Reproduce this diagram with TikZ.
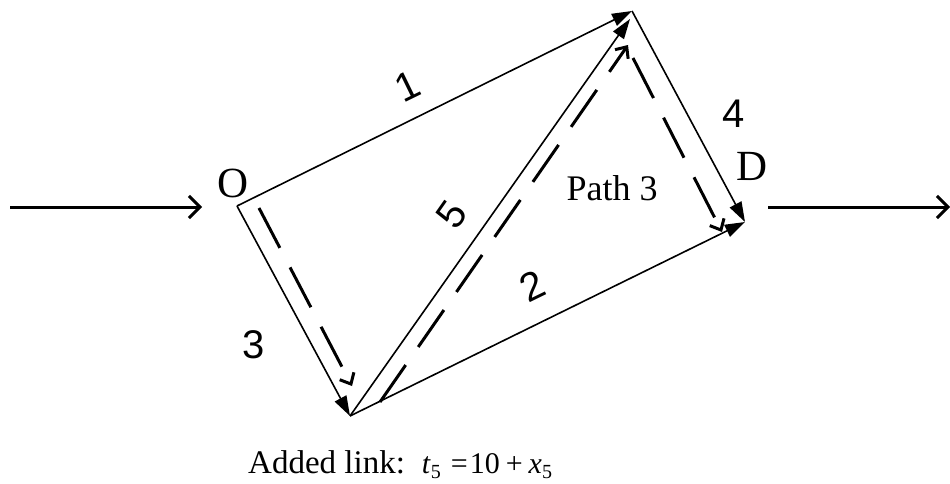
\documentclass[tikz,border=0pt]{standalone}
\usepackage{fontspec}
\setmainfont{Liberation Serif}
\newfontfamily\arialfont{Liberation Sans}
\usetikzlibrary{arrows.meta}
\tikzset{
 link/.style={line width=1.6pt, -{Triangle[length=20pt,width=13pt]}},
 pathline/.style={line width=3pt, dash pattern=on 45pt off 22pt, -{Straight Barb[length=9pt,width=16pt]}},
 flow/.style={line width=3pt, -{Straight Barb[length=11pt,width=22pt]}},
 num/.style={font=\arialfont\fontsize{40}{44}\selectfont, inner sep=0pt},
 vlabel/.style={font=\fontsize{43}{48}\selectfont, inner sep=0pt},
 txt/.style={font=\fontsize{33}{38}\selectfont, inner sep=0pt},
}
\newcommand{\subnum}[1]{\raisebox{-5pt}{\fontsize{20}{22}\selectfont #1}}
\newcommand{\mth}[1]{{\fontsize{30}{34}\selectfont #1}}
\begin{document}
\begin{tikzpicture}[x=1pt,y=-1pt]
\useasboundingbox (0,0) rectangle (950,484);
\coordinate (o) at (237,206);
\coordinate (t) at (632,11);
\coordinate (t5) at (630,19);
\coordinate (b) at (350,416);
\coordinate (d) at (745,222);
\draw[link] (o) -- (t);
\draw[link] (b) -- (t5);
\draw[link] (o) -- (b);
\draw[link] (b) -- (d);
\draw[link] (t) -- (d);
% path 3
\coordinate (p1s) at (259,208);
\coordinate (p1e) at (352,386);
\coordinate (p2s) at (380,402);
\coordinate (p2e) at (628,45);
\coordinate (p3s) at (633,58);
\coordinate (p3e) at (722,232);
\draw[pathline] (p1s) -- (p1e);
\draw[pathline] (p2s) -- (p2e);
\draw[pathline] (p3s) -- (p3e);
% in / out flows
\coordinate (in1) at (10,207);
\coordinate (in2) at (202,207);
\coordinate (out1) at (768,207);
\coordinate (out2) at (950,207);
\draw[flow] (in1) -- (in2);
\draw[flow] (out1) -- (out2);
% labels
\node[vlabel] (lO) at (233,183) {O};
\node[vlabel] (lD) at (752,166) {D};
\node[num, rotate=26] (l1) at (407,86) {1};
\node[num, rotate=55] (l5) at (452,215) {5};
\node[num, rotate=26] (l2) at (532,286) {2};
\node[num] (l3) at (254,345) {3};
\node[num] (l4) at (734,114) {4};
\node[font=\fontsize{36}{40}\selectfont, inner sep=0pt] (lp) at (612,188) {Path 3};
\node[txt, anchor=base west] (f) at (248,473) {Added link:\hspace{17pt}\mth{\textit{t}}\subnum{5}\hspace{10pt}\mth{=}\hspace{2pt}\mth{10}\hspace{6pt}\mth{+}\hspace{6pt}\mth{\textit{x}}\subnum{5}};
\end{tikzpicture}
\end{document}
